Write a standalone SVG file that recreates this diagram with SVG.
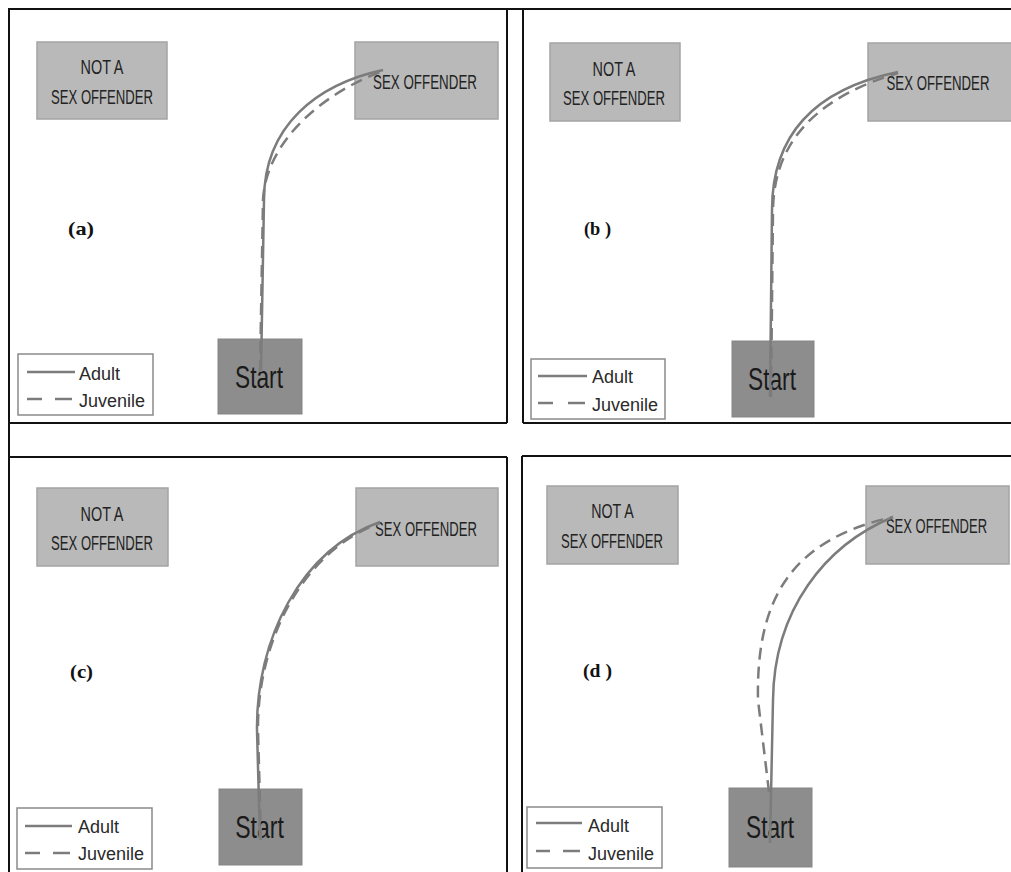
<svg xmlns="http://www.w3.org/2000/svg" width="1011" height="872" viewBox="0 0 1011 872">
<style>
.frame{stroke:#111;stroke-width:2;fill:none}
.box{fill:#b9b9b9;stroke:#a4a4a4;stroke-width:1.5}
.start{fill:#8d8d8d;stroke:#858585;stroke-width:1}
.bt{font-family:"Liberation Sans",Arial,sans-serif;font-size:20px;fill:#222;text-anchor:middle}
.st{font-family:"Liberation Sans",Arial,sans-serif;font-size:32px;fill:#1a1a1a;text-anchor:middle}
.lab{font-family:"Liberation Serif","Times New Roman",serif;font-size:19px;font-weight:bold;fill:#111}
.leg{fill:#fff;stroke:#8a8a8a;stroke-width:1.5}
.lt{font-family:"Liberation Sans",Arial,sans-serif;font-size:18px;fill:#2a2a2a}
.ls{stroke:#7c7c7c;stroke-width:2.5;fill:none}
.ld{stroke:#7c7c7c;stroke-width:2.5;fill:none;stroke-dasharray:12 7}
</style>
<rect width="1011" height="872" fill="#fff"/>
<g id="frames">
<line class="frame" x1="8" y1="9" x2="1011" y2="9" stroke-width="2.5"/>
<line class="frame" x1="9" y1="8" x2="9" y2="872" stroke-width="2.5"/>
<line class="frame" x1="507" y1="9" x2="507" y2="423"/>
<line class="frame" x1="9" y1="423" x2="507" y2="423"/>
<line class="frame" x1="523" y1="9" x2="523" y2="423"/>
<line class="frame" x1="523" y1="423" x2="1011" y2="423"/>
<line class="frame" x1="9" y1="457" x2="507" y2="457"/>
<line class="frame" x1="507" y1="457" x2="507" y2="872"/>
<line class="frame" x1="522" y1="456" x2="1011" y2="456"/>
<line class="frame" x1="522" y1="456" x2="522" y2="872"/>
</g>

<!-- Panel (a) -->
<g id="a-not">
<rect class="box" x="37" y="42" width="130" height="77"/>
<text class="bt" transform="translate(102 74) scale(0.72 1)">NOT A</text>
<text class="bt" transform="translate(102 104) scale(0.656 1)">SEX OFFENDER</text>
</g>
<g id="a-sex">
<rect class="box" x="355" y="42" width="143" height="77"/>
<text class="bt" transform="translate(425 89) scale(0.668 1)">SEX OFFENDER</text>
</g>
<g id="a-label"><text class="lab" x="68" y="235" textLength="26" lengthAdjust="spacingAndGlyphs">(a)</text></g>
<g id="a-start">
<rect class="start" x="218" y="339" width="84" height="75"/>
<text class="st" transform="translate(259 388) scale(0.71 1)">Start</text>
</g>
<g id="a-legend">
<rect class="leg" x="18" y="354" width="135" height="61"/>
<line class="ls" x1="27" y1="372" x2="75" y2="372"/>
<text class="lt" x="79" y="380">Adult</text>
<line class="ls" x1="27" y1="399" x2="42" y2="399"/>
<line class="ls" x1="55" y1="399" x2="72" y2="399"/>
<text class="lt" x="79" y="407">Juvenile</text>
</g>

<!-- Panel (b) -->
<g id="b-not">
<rect class="box" x="550" y="43" width="130" height="78"/>
<text class="bt" transform="translate(614 76) scale(0.72 1)">NOT A</text>
<text class="bt" transform="translate(614 105) scale(0.656 1)">SEX OFFENDER</text>
</g>
<g id="b-sex">
<rect class="box" x="868" y="43" width="146" height="78"/>
<text class="bt" transform="translate(938 90) scale(0.662 1)">SEX OFFENDER</text>
</g>
<g id="b-label"><text class="lab" x="584" y="235" textLength="27" lengthAdjust="spacingAndGlyphs">(b )</text></g>
<g id="b-start">
<rect class="start" x="732" y="341" width="82" height="76"/>
<text class="st" transform="translate(772 390) scale(0.71 1)">Start</text>
</g>
<g id="b-legend">
<rect class="leg" x="531" y="359" width="134" height="60"/>
<line class="ls" x1="538" y1="376" x2="587" y2="376"/>
<text class="lt" x="592" y="383">Adult</text>
<line class="ls" x1="538" y1="403" x2="553" y2="403"/>
<line class="ls" x1="568" y1="403" x2="585" y2="403"/>
<text class="lt" x="592" y="411">Juvenile</text>
</g>

<!-- Panel (c) -->
<g id="c-not">
<rect class="box" x="37" y="488" width="131" height="78"/>
<text class="bt" transform="translate(102 521) scale(0.72 1)">NOT A</text>
<text class="bt" transform="translate(102 550) scale(0.656 1)">SEX OFFENDER</text>
</g>
<g id="c-sex">
<rect class="box" x="356" y="488" width="142" height="78"/>
<text class="bt" transform="translate(426 536) scale(0.656 1)">SEX OFFENDER</text>
</g>
<g id="c-label"><text class="lab" x="70" y="678" textLength="23" lengthAdjust="spacingAndGlyphs">(c)</text></g>
<g id="c-start">
<rect class="start" x="219" y="789" width="83" height="76"/>
<text class="st" transform="translate(259.5 838) scale(0.72 1)">Start</text>
</g>
<g id="c-legend">
<rect class="leg" x="17" y="808" width="135" height="61"/>
<line class="ls" x1="25" y1="826" x2="72" y2="826"/>
<text class="lt" x="78" y="833">Adult</text>
<line class="ls" x1="25" y1="853" x2="40" y2="853"/>
<line class="ls" x1="53" y1="853" x2="70" y2="853"/>
<text class="lt" x="78" y="860">Juvenile</text>
</g>

<!-- Panel (d) -->
<g id="d-not">
<rect class="box" x="547" y="486" width="131" height="78"/>
<text class="bt" transform="translate(612.5 518) scale(0.71 1)">NOT A</text>
<text class="bt" transform="translate(612 548) scale(0.656 1)">SEX OFFENDER</text>
</g>
<g id="d-sex">
<rect class="box" x="866" y="486" width="143" height="78"/>
<text class="bt" transform="translate(936.5 533) scale(0.65 1)">SEX OFFENDER</text>
</g>
<g id="d-label"><text class="lab" x="583" y="677" textLength="29" lengthAdjust="spacingAndGlyphs">(d )</text></g>
<g id="d-start">
<rect class="start" x="729" y="788" width="83" height="79"/>
<text class="st" transform="translate(770 838) scale(0.71 1)">Start</text>
</g>
<g id="d-legend">
<rect class="leg" x="527" y="807" width="135" height="61"/>
<line class="ls" x1="536" y1="823" x2="582" y2="823"/>
<text class="lt" x="588" y="832">Adult</text>
<line class="ls" x1="536" y1="851" x2="550" y2="851"/>
<line class="ls" x1="563" y1="851" x2="580" y2="851"/>
<text class="lt" x="588" y="860">Juvenile</text>
</g>

<g id="connectors">
<path class="ls" d="M261 372 L264 200 C264 125 318 84 383 70"/>
<path class="ld" d="M260 372 L263 200 C266 140 325 92 383 71"/>
<path class="ls" d="M770 397 L772 210 C772 130 820 88 898 72"/>
<path class="ld" d="M771 397 L773 210 C774 135 825 95 898 73"/>
<path class="ls" d="M260 840 L257 730 C256 640 300 550 380 522"/>
<path class="ld" d="M261 840 L258 730 C257 642 302 551 380 523"/>
<path class="ls" d="M770 843 L773 700 C774 610 825 545 893 517"/>
<path class="ld" d="M769 792 L758 700 C756 600 790 540 893 517"/>
</g>
</svg>
